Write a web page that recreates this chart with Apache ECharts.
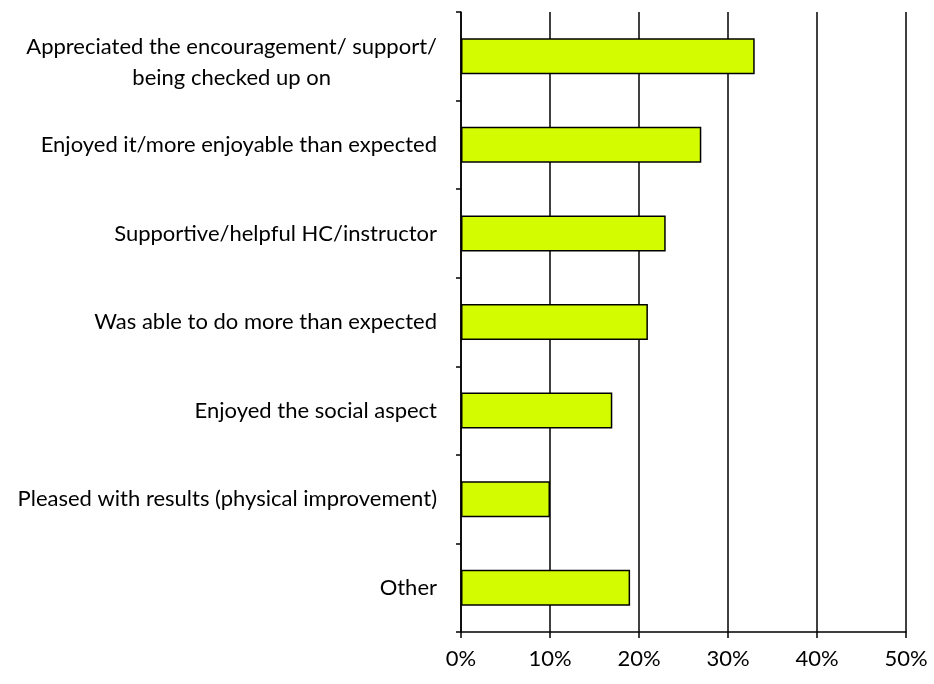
<!DOCTYPE html>
<html>
<head>
<meta charset="utf-8">
<script src="https://cdn.jsdelivr.net/npm/echarts@6/dist/echarts.min.js"></script>
<style>
  html, body { margin: 0; padding: 0; background: #ffffff; }
  #chart { width: 934px; height: 684px; }
</style>
</head>
<body>
<div id="chart"></div>
<script>
// Reasons given for enjoying the programme (% of respondents)
const categories = [
  'Appreciated the encouragement/ support/\nbeing checked up on',
  'Enjoyed it/more enjoyable than expected',
  'Supportive/helpful HC/instructor',
  'Was able to do more than expected',
  'Enjoyed the social aspect',
  'Pleased with results (physical improvement)',
  'Other'
];
const shares = [33, 27, 23, 21, 17, 10, 19];
const xTicks = [0, 10, 20, 30, 40, 50];

const FONT = 'Lato';
const FS = 22;
const chart = echarts.init(document.getElementById('chart'));

chart.setOption({
  animation: false,
  backgroundColor: '#ffffff',
  textStyle: { fontFamily: FONT },
  grid: { left: 461, right: 28, top: 12, bottom: 52, containLabel: false },
  xAxis: {
    type: 'value',
    min: xTicks[0],
    max: xTicks[xTicks.length - 1],
    interval: xTicks[1] - xTicks[0],
    axisLine: { show: true, lineStyle: { color: '#000', width: 1.5 } },
    axisTick: { show: true, length: 6, lineStyle: { color: '#000', width: 1.5 } },
    splitLine: { show: true, lineStyle: { color: '#000', width: 1.5 } },
    axisLabel: {
      formatter: '{value}%',
      color: '#000',
      fontFamily: FONT,
      fontSize: FS,
      margin: 16
    }
  },
  yAxis: {
    type: 'category',
    inverse: true,
    data: categories,
    axisLine: { show: true, lineStyle: { color: '#000', width: 1.5 } },
    axisTick: { show: true, length: 5, lineStyle: { color: '#000', width: 1.5 } },
    splitLine: { show: false },
    axisLabel: {
      color: '#000',
      fontFamily: FONT,
      fontSize: FS,
      margin: 24,
      formatter: function (v) {
        if (v.indexOf('\n') < 0) return v;
        // wrapped labels: lines centred on each other, block nudged down a little
        return '{gap| }\n' + v.split('\n').map(function (s) { return '{c|' + s + '}'; }).join('\n');
      },
      rich: {
        gap: { fontSize: 4, lineHeight: 12 },
        c: { align: 'center', fontFamily: FONT, fontSize: FS, lineHeight: 31, color: '#000' }
      }
    }
  },
  series: [{
    type: 'bar',
    data: shares,
    barWidth: 36,
    itemStyle: { color: '#d4fc00', borderColor: '#000', borderWidth: 1.5 }
  }]
});
</script>
</body>
</html>
